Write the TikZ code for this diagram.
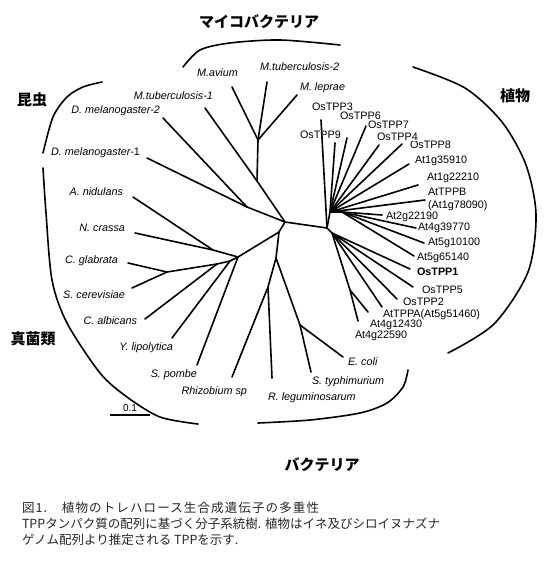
\documentclass[tikz,border=0pt]{standalone}
\usepackage{fontspec}
\setmainfont{Liberation Sans}
\newfontfamily\jpfont{Noto Sans CJK JP}
\newfontfamily\jptitlefont[LetterSpace=9]{Noto Sans CJK JP}
\usetikzlibrary{positioning}

\begin{document}
\begin{tikzpicture}[x=1pt, y=-1pt,
  every node/.style={inner sep=0pt, outer sep=0pt},
  branch/.style={line width=1.6pt, line cap=round},
  brace/.style={line width=1.6pt, line cap=round},
  plant/.style={anchor=west, font=\fontsize{10.8}{13}\selectfont},
  species/.style={font=\fontsize{10.8}{13}\selectfont\itshape},
  group/.style={font=\fontsize{15}{17}\selectfont\jpfont\bfseries},
  captext/.style={anchor=base west, font=\fontsize{12.5}{15}\selectfont\jpfont, text=black!85},
]
\useasboundingbox (0,0) rectangle (552,580);

% inner nodes of the tree
\coordinate (A) at (285,222);
\coordinate (B) at (327,228);
\coordinate (C) at (279,232);
\coordinate (myco) at (258,140);
\coordinate (mycoJ) at (257,181);
\coordinate (dmel) at (247,207);
\coordinate (F0) at (238,257);
\coordinate (FA) at (213,250);
\coordinate (F1) at (167,272);
\coordinate (F2) at (217,264);
\coordinate (FY) at (230,261);
\coordinate (E0) at (276,258);
\coordinate (E1) at (268,287);
\coordinate (E2) at (300,325);
\coordinate (PU) at (330,212);
\coordinate (PA) at (342,212);
\coordinate (BL) at (332,233);
\coordinate (P4) at (350,290);

% species tips, label left of the tip
\foreach \n/\tx/\ty/\lx/\ly/\t in {
  tub1/205/108/213/96/M.tuberculosis-1,
  dmel2/163/118/160/111/D. melanogaster-2,
  dmel1/147/158/140/153/{D. melanogaster\upshape -1},
  anid/133/197/123/192/A. nidulans,
  ncr/135/233/125/228/N. crassa,
  cgla/128/263/118/261/C. glabrata,
  scer/132/288/125/295/S. cerevisiae,
  calb/145/319/137/321/C. albicans,
  ylip/172/338/173/348/Y. lipolytica,
  spom/197/365/197/375/S. pombe,
  rhiz/232/377/247/392/Rhizobium sp}
  {\coordinate (\n) at (\tx,\ty);
   \node[species, anchor=east] (l\n) at (\lx,\ly) {\t};}

% species tips, label right of the tip
\foreach \n/\tx/\ty/\lx/\ly/\t in {
  avium/232/87/197/73/M.avium,
  tub2/267/82/260/67/M.tuberculosis-2,
  lep/297/95/300/88/M. leprae,
  rleg/272/378/268/398/R. leguminosarum,
  styp/311/372/312/382/S. typhimurium,
  ecol/343/357/348/362/E. coli}
  {\coordinate (\n) at (\tx,\ty);
   \node[species, anchor=west] (l\n) at (\lx,\ly) {\t};}

% plant genes
\foreach \n/\tx/\ty/\lx/\ly/\t in {
  os3/321/120/312/107/OsTPP3,
  os6/347/138/340/116/OsTPP6,
  os7/366/126/368/125/OsTPP7,
  os9/335/143/300/135/OsTPP9,
  os8/402/144/410/145/OsTPP8,
  at35/409/164/415/161/At1g35910,
  at22/418/185/427/178/At1g22210,
  at2g/382/215/386/217/At2g22190,
  at39/416/228/418/228/At4g39770,
  at10/424/243/428/243/At5g10100,
  at65/414/256/417/258/At5g65140,
  os5/413/287/422/290/OsTPP5,
  os2/397/299/403/302/OsTPP2,
  attppa/382/307/383/315/AtTPPA(At5g51460),
  at12/368/312/370/325/At4g12430,
  at90/358/321/355/336/At4g22590}
  {\coordinate (\n) at (\tx,\ty);
   \node[plant] (l\n) at (\lx,\ly) {\t};}
\coordinate (os4) at (379,145);
\node[plant, fill=white, inner ysep=0.5pt] (los4) at (377,137) {OsTPP4};
\coordinate (os1) at (410,269);
\node[plant, font=\fontsize{10.8}{13}\selectfont\bfseries] (los1) at (417,272) {OsTPP1};
\coordinate (attppb) at (425,200);
\node[plant, align=left] (lattppb) at (428,199) {AtTPPB\\(At1g78090)};

% branches
\foreach \a/\b in {tub1/mycoJ, myco/mycoJ, mycoJ/A, avium/myco, tub2/myco, lep/myco,
  dmel2/dmel, dmel1/dmel, dmel/A, A/B, A/C, C/F0, C/E0,
  anid/FA, ncr/FA, FA/F0, cgla/F1, scer/F1, F1/F2, calb/F2, F2/FY, ylip/FY, FY/F0, spom/F0,
  E0/E1, E1/rhiz, E1/rleg, E0/E2, E2/styp, E2/ecol,
  B/PU, os3/B, os9/PU, os6/PU, os7/PU, os4/PU, os8/PU, at35/PU, at22/PU, attppb/PU,
  PA/PU, at2g/PA, at39/PA, at10/PA, at65/PA,
  B/BL, BL/os1, BL/os5, BL/os2, BL/attppa, BL/P4, P4/at12, P4/at90}
  \draw[branch] (\a) -- (\b);

% group brackets
\draw[brace] plot[smooth] coordinates {(183,67) (200,50) (230,43) (280,40) (340,45)};
\draw[brace] plot[smooth] coordinates {(102,82) (83,87) (67,97) (53,117) (43,153)};
\draw[brace] plot[smooth] coordinates {(43,168) (46,213) (52,280) (67,323) (100,373) (127,397) (160,417) (198,424)};
\draw[brace] plot[smooth] coordinates {(408,370) (403,387) (387,403) (360,413) (310,420) (258,423)};
\draw[brace] plot[smooth] coordinates {(413,67) (465,88) (502,122) (526,165) (536,215) (528,272) (494,324) (448,353)};

\node[group] (gmyco) at (259,22) {マイコバクテリア};
\node[group] (ginsect) at (32,100) {昆虫};
\node[group] (gfungi) at (33,339) {真菌類};
\node[group] (gplant) at (515,96) {植物};
\node[group] (gbact) at (322,465) {バクテリア};

% scale bar
\coordinate (sbL) at (110,415);
\coordinate (sbR) at (150,415);
\coordinate (sbM) at (130,415);
\draw[line width=1.6pt] (sbL) -- (sbR);
\node[font=\fontsize{10}{12}\selectfont, above=3pt of sbM] (sblab) {0.1};

% caption
\node[captext] (cap1) at (22,512) {\jptitlefont 図1.　植物のトレハロース生合成遺伝子の多重性};
\node[captext] (cap2) at (22,528) {TPPタンパク質の配列に基づく分子系統樹. 植物はイネ及びシロイヌナズナ};
\node[captext] (cap3) at (22,544) {ゲノム配列より推定される TPPを示す.};
\end{tikzpicture}
\end{document}
